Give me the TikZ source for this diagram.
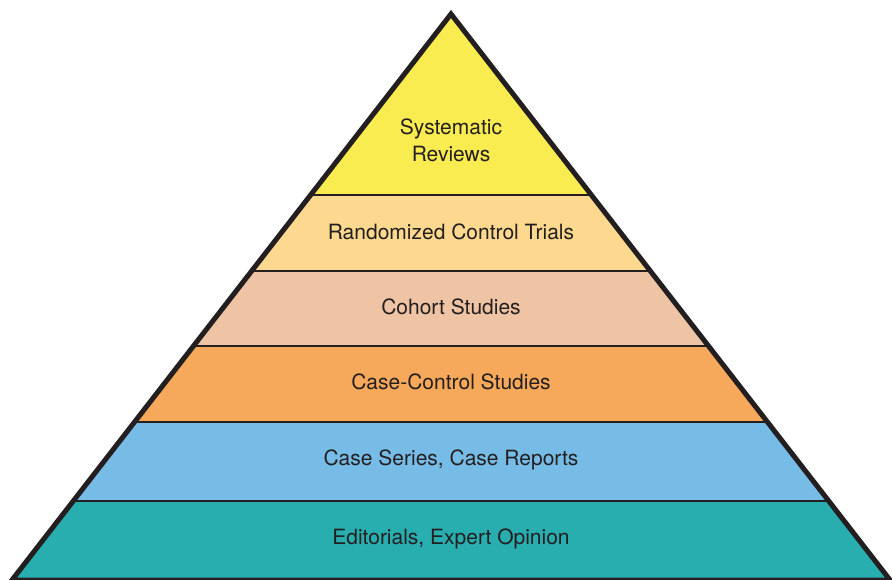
\documentclass[tikz,border=0pt]{standalone}
\usepackage{fontspec}
\setmainfont{TeX Gyre Heros}
\usetikzlibrary{calc}
\definecolor{ink}{HTML}{231F20}
\definecolor{lvA}{HTML}{F9EC50}
\definecolor{lvB}{HTML}{FDD88F}
\definecolor{lvC}{HTML}{EEC4A5}
\definecolor{lvD}{HTML}{F6A95A}
\definecolor{lvE}{HTML}{77BCE6}
\definecolor{lvF}{HTML}{29AEB0}
\tikzset{lvl/.style={font=\fontsize{21}{27}\selectfont,text=ink,align=center}}

\begin{document}
\begin{tikzpicture}[x=1pt,y=-1pt]
\useasboundingbox (0,0) rectangle (892,580);
\coordinate (top) at (451,14);
\coordinate (bl) at (12,580);
\coordinate (br) at (890,580);
% layer borders
\foreach \t/\n in {0.3191/1,0.4539/2,0.5869/3,0.7216/4,0.8599/5}{
  \coordinate (l\n) at ($(top)!\t!(bl)$);
  \coordinate (r\n) at ($(top)!\t!(br)$);
}
\fill[lvA] (top) -- (r1) -- (l1) -- cycle;
\fill[lvB] (l1) -- (r1) -- (r2) -- (l2) -- cycle;
\fill[lvC] (l2) -- (r2) -- (r3) -- (l3) -- cycle;
\fill[lvD] (l3) -- (r3) -- (r4) -- (l4) -- cycle;
\fill[lvE] (l4) -- (r4) -- (r5) -- (l5) -- cycle;
\fill[lvF] (l5) -- (r5) -- (br) -- (bl) -- cycle;
\foreach \n in {1,...,5}
  \draw[ink,line width=2pt] (l\n) -- (r\n);
\draw[ink,line width=5pt,line join=miter] (bl) -- (top) -- (br) -- cycle;
% labels
\node[lvl] (sys) at (451,140) {Systematic\\Reviews};
\node[lvl] (rct) at (451,232) {Randomized Control Trials};
\node[lvl] (coh) at (451,307) {Cohort Studies};
\node[lvl] (cc) at (451,382) {Case-Control Studies};
\node[lvl] (cs) at (451,460) {Case Series, Case Reports};
\node[lvl] (ed) at (451,539) {Editorials, Expert Opinion};
\end{tikzpicture}
\end{document}
